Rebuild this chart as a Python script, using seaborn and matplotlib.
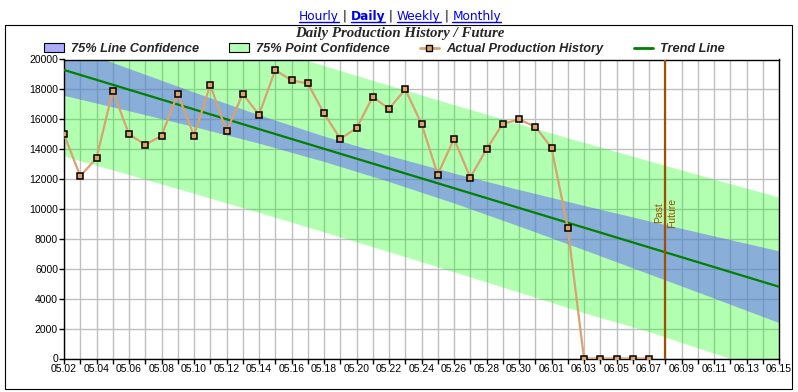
import numpy as np
import pandas as pd
import matplotlib
matplotlib.use("Agg")
import matplotlib.pyplot as plt
import seaborn as sns
from matplotlib.patches import Rectangle, Patch
from matplotlib.lines import Line2D

# ---------------- data ----------------
dates = ["05.02", "05.03", "05.04", "05.05", "05.06", "05.07", "05.08", "05.09", "05.10",
         "05.11", "05.12", "05.13", "05.14", "05.15", "05.16", "05.17", "05.18", "05.19",
         "05.20", "05.21", "05.22", "05.23", "05.24", "05.25", "05.26", "05.27", "05.28",
         "05.29", "05.30", "05.31", "06.01", "06.02", "06.03", "06.04", "06.05", "06.06",
         "06.07", "06.08", "06.09", "06.10", "06.11", "06.12", "06.13", "06.14", "06.15"]

history_dates = dates[:37]
production = [15000, 12200, 13400, 17900, 15000, 14300, 14900, 17700, 14900, 18300,
              15200, 17700, 16300, 19300, 18600, 18400, 16400, 14700, 15400, 17500,
              16700, 18000, 15700, 12300, 14700, 12100, 14000, 15700, 16000, 15500,
              14100, 8750, 0, 0, 0, 0, 0]

trend_dates = ["05.02", "06.15"]
trend_values = [19300, 4800]

band_dates = ["05.02", "05.06", "05.10", "05.14", "05.18", "05.22",
              "05.26", "05.30", "06.03", "06.07", "06.11", "06.15"]
line_conf_upper = [21000, 19400, 17820, 16300, 14880, 13580, 12400, 11300, 10240, 9210, 8200, 7200]
line_conf_lower = [17600, 16570, 15510, 14400, 13180, 11840, 10400, 8860, 7270, 5660, 4040, 2400]
point_conf_upper = [25060, 23660, 22280, 20930, 19590, 18275, 16980, 15700, 14450, 13220, 12000, 10800]
point_conf_lower = [13540, 12300, 11050, 9770, 8470, 7145, 5800, 4440, 3060, 1800, 350, -1000]

divider_date = "06.08"
y_ticks = [0, 2000, 4000, 6000, 8000, 10000, 12000, 14000, 16000, 18000, 20000]

title = "Daily Production History / Future"
links = ["Hourly", "Daily", "Weekly", "Monthly"]
active_link = "Daily"

# ---------------- style ----------------
sns.set_theme(style="white")
plt.rcParams["font.family"] = ["Liberation Sans", "DejaVu Sans"]

W, H = 798, 392
fig = plt.figure(figsize=(W / 100, H / 100), dpi=100)
fig.patch.set_facecolor("white")

ax = fig.add_axes([64 / W, 1 - 358.5 / H, (779 - 64) / W, 299 / H])
ax.set_facecolor("white")

pos = {d: i for i, d in enumerate(dates)}
bx = [pos[d] for d in band_dates]

green_col = (0.0, 1.0, 0.0)
blue_col = (0.38, 0.37, 1.0)

ax.fill_between(bx, point_conf_lower, point_conf_upper, color=green_col, alpha=0.3, lw=0, zorder=1)
ax.fill_between(bx, line_conf_lower, line_conf_upper, color=blue_col, alpha=0.5, lw=0, zorder=2)

trend_df = pd.DataFrame({"x": [pos[d] for d in trend_dates], "y": trend_values})
sns.lineplot(data=trend_df, x="x", y="y", ax=ax, color="#008000", lw=1.6, zorder=4)

hist_df = pd.DataFrame({"x": [pos[d] for d in history_dates], "y": production})
sns.lineplot(data=hist_df, x="x", y="y", ax=ax, color="#d9a26f", lw=1.6, marker="s",
             markersize=5, markerfacecolor="#dda36f", markeredgecolor="black",
             markeredgewidth=1.1, zorder=5)

div_x = pos[divider_date]
ax.axvline(div_x, color="#a05000", lw=1.6, zorder=6)
ax.text(div_x - 0.38, 9770, "Past", rotation=90, ha="center", va="center",
        color="#a05000", fontsize=7.5, zorder=7)
ax.text(div_x + 0.42, 9770, "Future", rotation=90, ha="center", va="center",
        color="#a05000", fontsize=7.5, zorder=7)

ax.set_xlim(0, len(dates) - 1)
ax.set_ylim(0, 20000)
ax.set_xticks(range(0, len(dates), 2))
ax.set_xticklabels(dates[::2])
ax.set_xticks(range(len(dates)), minor=True)
ax.set_yticks(y_ticks)
ax.set_yticklabels([str(v) for v in y_ticks])
ax.set_xlabel("")
ax.set_ylabel("")

ax.grid(True, which="minor", axis="x", color="#c0c0c0", lw=1)
ax.grid(True, which="major", axis="x", color="#c0c0c0", lw=1)
ax.grid(True, which="major", axis="y", color="#c0c0c0", lw=1)
ax.set_axisbelow(True)

ax.tick_params(axis="both", which="both", direction="out", length=3.5, width=1,
               color="black", labelsize=7.5, labelcolor="black", pad=0.8)
ax.tick_params(axis="x", which="both", bottom=True)
ax.tick_params(axis="y", which="both", left=True)
for s in ax.spines.values():
    s.set_visible(True)
    s.set_color("black")
    s.set_linewidth(1)
for lab in ax.get_xticklabels() + ax.get_yticklabels():
    lab.set_family(["Liberation Sans"])

# ---------------- legend ----------------
handles = [
    Patch(facecolor="#acacff", edgecolor="black", lw=0.8),
    Patch(facecolor="#b3ffb3", edgecolor="black", lw=0.8),
    Line2D([], [], color="#d9a26f", lw=2, marker="s", markersize=5,
           markerfacecolor="#dda36f", markeredgecolor="black", markeredgewidth=1),
    Line2D([], [], color="#008000", lw=2),
]
labels = ["75% Line Confidence", "75% Point Confidence", "Actual Production History", "Trend Line"]
fig.legend(handles, labels, loc="center left", bbox_to_anchor=(44 / W, 1 - 49 / H),
           ncol=4, frameon=False, borderpad=0, borderaxespad=0,
           handlelength=1.55, handletextpad=0.55, columnspacing=2.35,
           prop={"family": "Liberation Sans", "weight": "bold", "style": "italic", "size": 9.2})

# ---------------- title ----------------
fig.text(400 / W, 1 - 33 / H, title, ha="center", va="center",
         family="Liberation Serif", weight="bold", style="italic", fontsize=10.7)

# ---------------- links ----------------
fig.canvas.draw()
renderer = fig.canvas.get_renderer()
pieces = []
for i, name in enumerate(links):
    if i > 0:
        pieces.append((" | ", "normal", "black", False))
    pieces.append((name, "bold" if name == active_link else "normal", "#0000ee", True))
tmp = []
total = 0
for txt, wt, col, ul in pieces:
    t = fig.text(0, 0, txt, family="DejaVu Sans", weight=wt, fontsize=8.7, color=col)
    bb = t.get_window_extent(renderer)
    tmp.append((t, bb.width, ul))
    total += bb.width
x0 = 400 - total / 2
base_y = 1 - 20 / H
for t, w, ul in tmp:
    t.set_position((x0 / W, base_y))
    t.set_va("baseline")
    if ul:
        fig.add_artist(Line2D([x0 / W, (x0 + w) / W], [1 - 21.5 / H] * 2,
                              transform=fig.transFigure, color="#0000ee", lw=1))
    x0 += w

# ---------------- outer frame ----------------
fig.add_artist(Rectangle((4.5 / W, 1 - 388.5 / H), (792 - 4.5) / W, (388.5 - 24.5) / H,
                         transform=fig.transFigure, fill=False, lw=0.8, ec="black"))

fig.savefig("out.png", dpi=100, facecolor="white")
